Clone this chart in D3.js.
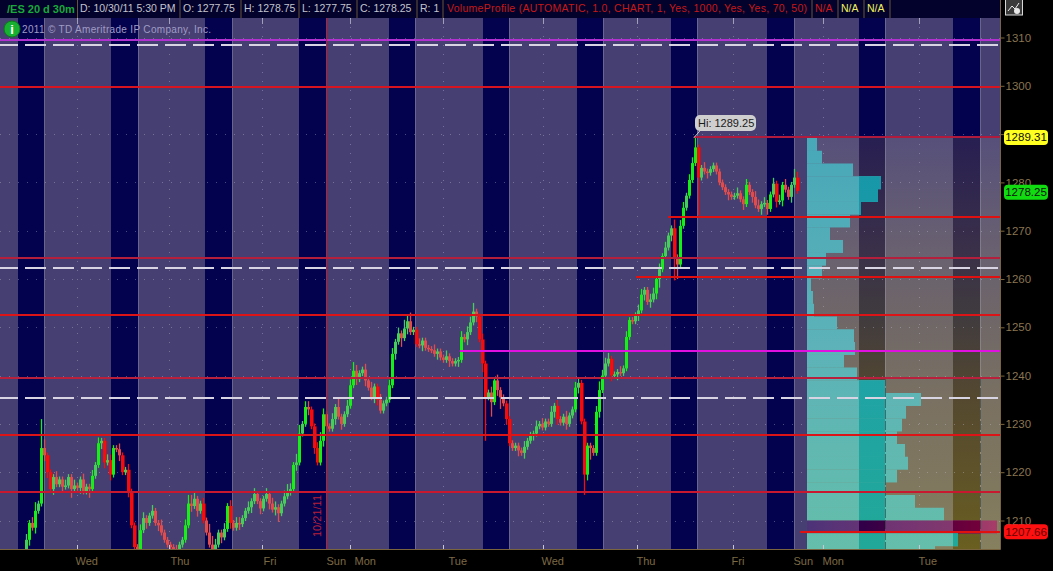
<!DOCTYPE html>
<html><head><meta charset="utf-8">
<script src="https://cdnjs.cloudflare.com/ajax/libs/d3/7.8.5/d3.min.js"></script>
<style>html,body{margin:0;padding:0;background:#000;overflow:hidden}svg{display:block}text{font-family:"Liberation Sans",Arial,sans-serif}</style>
</head><body><svg id="c" width="1053" height="571"></svg>
<script>
// one time slot = one drawn bar
const closes=[
1203.5,1206,1209.5,1208.5,1212,1213.5,1225,1223.5,1220,1216.5,
1219,1217.5,1218.5,1217,1217.25,1219,1216.5,1217.25,1216.75,1218.5,
1216,1217,1216.5,1219.25,1221.5,1226,1226.5,1222,1222.5,1219.5,
1225,1224.75,1223.5,1220,1220.5,1216,1209,1204.5,1204,1208,
1210.5,1209.5,1211,1212,1209.5,1209,1207.5,1206,1205,1204.5,
1203.75,1203.5,1205,1206,1209,1213.5,1213,1214.5,1212,1213.5,
1210,1207.5,1205,1203.75,1205,1207.5,1206.5,1208.25,1213,1209.5,
1208.5,1209.5,1209.25,1210.5,1212,1212.75,1214,1215.5,1214,1212.5,
1214.5,1215.5,1213.5,1212.25,1212.75,1211.5,1213.5,1215,1215.75,1216.5,
1221.5,1222,1228,1230,1233.5,1233,1229.5,1225,1222,1226.5,
1232,1229.5,1229,1231,1233.5,1231.5,1230,1232,1233.75,1238,
1241,1239.25,1240.5,1241.25,1239,1237.5,1235.5,1237.75,1235,1232.75,
1234.25,1235,1238,1244.5,1247,1248.75,1247.75,1249.75,1251.25,1249,
1249.5,1246.5,1246.25,1247.25,1245.75,1245.5,1245.25,1244.5,1245,1243.75,
1243.25,1244,1243,1242.5,1243,1243.25,1248,1247.5,1249,1251,
1253.25,1252.25,1247.5,1242.5,1235.5,1236.5,1234.5,1239,1237,1235.5,
1234.25,1231,1226,1225,1225.5,1224.5,1224,1225.25,1226.5,1227.75,
1228,1229.5,1230,1229.25,1230.5,1230,1232.5,1233.75,1231,1230.25,
1231.5,1230,1231.75,1233,1237.5,1238.5,1230.5,1219.5,1225.5,1225,
1224,1232.5,1237,1240,1242.5,1243.5,1240,1240.25,1240.75,1240.5,
1241.5,1248,1251.5,1251.25,1252.5,1253.5,1256.75,1257.75,1255.25,1255.75,
1257,1260,1262,1264.75,1266.5,1269,1270.5,1264.5,1263,1271,
1274.75,1277.25,1280.5,1284,1287.25,1281,1283,1282.25,1282,1282.75,
1283.5,1282.25,1280,1279,1278,1277.5,1277,1277.25,1277.75,1276.5,
1275.5,1279.5,1278,1277,1275.25,1274.5,1275.5,1275.75,1274.5,1277.5,
1279.75,1276,1276.25,1279.5,1278.5,1277,1279.5,1281,1278.25];
// wick lengths, half points
const upWicks=[
1,2,1,2,3,1,10,3,1,1, 1,2,1,1,2,1,1,2,1,1, 2,1,1,2,1,2,1,1,2,2, 1,1,2,1,1,2,1,1,1,2,
2,1,1,2,1,1,2,1,1,1, 1,2,1,1,2,3,3,2,1,1, 2,1,3,3,2,1,1,2,1,2, 1,2,2,1,1,2,1,2,1,1,
1,2,1,2,2,1,1,2,3,2, 1,3,3,1,2,2,1,1,2,3, 2,1,1,2,1,3,1,1,2,2, 3,2,1,1,2,1,2,1,1,2,
1,1,2,2,1,2,1,3,2,3, 1,1,2,1,1,1,1,2,1,1, 1,2,1,1,1,1,2,1,2,2, 3,1,1,2,1,1,2,1,2,1,
1,1,1,1,1,1,1,2,1,1, 1,2,1,2,1,1,2,1,2,1, 1,2,1,1,2,2,1,1,1,1, 1,2,3,2,2,2,1,1,1,2,
1,2,1,1,1,2,2,1,1,2, 2,1,2,1,2,1,1,3,1,2, 2,1,2,2,4,1,1,2,1,1, 1,1,1,1,1,1,1,1,2,1,
1,2,1,1,2,2,1,2,1,1, 2,1,2,1,2,1,1,3,2,2, 3,1,2,1,2,3,1,2,1];
const downWicks=[
1,1,2,1,2,1,1,2,2,1, 2,1,1,2,1,1,3,1,1,2, 1,1,3,1,1,1,2,2,1,2, 1,1,2,1,1,2,1,1,2,1,
1,2,1,1,1,2,1,1,1,1, 1,1,2,1,1,1,2,1,2,1, 1,1,1,1,2,1,2,1,1,2, 1,1,2,1,1,1,2,1,1,2,
1,1,2,1,2,3,1,1,1,1, 1,2,1,1,1,2,1,2,1,1, 2,2,1,1,2,1,2,1,1,1, 1,2,1,1,2,1,1,2,2,1,
1,1,1,1,2,1,3,1,2,1, 1,1,1,2,1,1,1,1,2,1, 1,1,2,1,1,2,1,1,2,1, 1,2,1,3,15,1,5,1,2,4,
1,2,1,1,1,2,1,2,1,1, 2,1,1,1,1,1,1,2,2,1, 1,2,1,1,1,2,1,7,2,4, 1,1,2,1,1,1,2,1,2,1,
1,1,1,1,1,2,1,2,1,2, 1,2,3,1,1,1,2,8,5,1, 1,1,1,1,1,13,1,1,2,1, 1,1,1,1,1,2,1,1,1,1,
2,1,1,2,1,1,2,1,2,1, 1,2,1,2,1,1,2,1,1,1, 1,2,1,1,1,2,1,1,1];
const nightSessions=[[6,14.67],[37,46],[68.33,77.33],[99.67,108.67],[129.67,138.33],[161,169.67],[192.33,201],[223.67,232.33],[255.67,264.67],[286.33,295],[317.67,326.67]];
const sessionEnds=[14.67,46,77.33,108.67,138.33,169.67,201,232.33,264.67,295,326.67];
const noonSlots=[25.67,56.33,87.33,116.67,147.67,181,212.33,244.33,274.33,306.33];
const dayTickSlots=[25,56.67,87.67,108.67,118,149.33,180.33,212,243.67,264.33,274,306];
const dayLabels=["Wed","Thu","Fri","Sun","Mon","Tue","Wed","Thu","Fri","Sun","Mon","Tue"];
const priceTicks=[1310,1300,1290,1280,1270,1260,1250,1240,1230,1220,1210];
const redLevels=[1299.75,1289.31,1272.8,1264.35,1260.4,1252.55,1239.5,1227.7,1215.9,1207.66];
const redFrom=[0,231.3,222.7,0,212,0,0,0,0,266.7];
const redColors=["#d81420","#b01a3c","#e01010","#b4203c","#e01010","#dc1418","#b8203c","#dc1418","#c81830","#e01010"];
const magentaLevels=[1309.5,1245.1];
const magentaFrom=[0,153.3];
const magentaColors=["#b030d0","#e010e0"];
const dashedLevels=[1308.45,1262.3,1235.4];
const profileVolumes=[10,15,46,74,71,54,43,23,36,19,15,4,6,7,30,47,48,37,50,78,114,99,95,90,98,101,90,78,108,137,190,151,128];
const headerCells=["D: 10/30/11 5:30 PM","O: 1277.75","H: 1278.75","L: 1277.75","C: 1278.25","R: 1"];
const headerCellX=[80,183,244,302,360,420];
const headerDividers=[77.5,180,241,299,357,417,443,812,838,864,890];
const tagValues=["1289.31","1278.25","1207.66"];
const tagColors=["#ffff20","#10dc10","#ff1010"];
const pocIndex=30;

const W=1000.5,T=18,B=549;
const svg=d3.select("#c");
const defs=svg.append("defs");
defs.append("clipPath").attr("id","plot").append("rect").attr("x",0).attr("y",T).attr("width",W).attr("height",B-T);
const vgrad=(id,stops,y1,y2)=>{const g=defs.append("linearGradient").attr("id",id).attr("gradientUnits","userSpaceOnUse").attr("x1",0).attr("x2",0).attr("y1",y1).attr("y2",y2);
 stops.forEach(s=>g.append("stop").attr("offset",s[0]).attr("stop-color",s[1]));};
const hgrad=(id,stops)=>{const g=defs.append("linearGradient").attr("id",id).attr("gradientUnits","userSpaceOnUse").attr("x1",807).attr("x2",997).attr("y1",0).attr("y2",0);
 stops.forEach(s=>g.append("stop").attr("offset",s[0]).attr("stop-color",s[1]));};
vgrad("ovDay",[[0,"#57507a"],[.27,"#696170"],[.42,"#6e6668"],[.64,"#7a7162"],[.84,"#7f775e"],[1,"#87805f"]],139,549);
vgrad("ovNight",[[0,"#281f52"],[.27,"#3a3049"],[.42,"#3f3a3f"],[.64,"#55492f"],[.84,"#5f5428"],[1,"#6a5f20"]],139,549);
vgrad("tealDay",[[0,"#48a8b8"],[.5,"#5cb2b8"],[1,"#64beaa"]],139,549);
vgrad("tealNight",[[0,"#1595a8"],[.5,"#20a2a8"],[1,"#21a898"]],139,549);
hgrad("pocDay",[[0,"#4c3378"],[.4,"#6e3474"],[.75,"#82386e"],[1,"#a83c68"]]);
hgrad("pocNight",[[0,"#320048"],[.3,"#320048"],[1,"#7c0038"]]);

const x=d3.scaleLinear().domain([0,1000/3]).range([0,1000]);
const y=d3.scaleLinear().domain([1310,1210]).range([37.5,520.5]);
const barX=i=>x(i+7.67);
const ry=p=>Math.round(y(p));

const nightClip=defs.append("clipPath").attr("id","night");
nightClip.selectAll("rect").data(nightSessions).join("rect").attr("x",d=>x(d[0])).attr("width",d=>x(d[1])-x(d[0])).attr("y",T).attr("height",B-T);

svg.append("rect").attr("width",1053).attr("height",571).attr("fill","#000");
// header
svg.append("rect").attr("width",W).attr("height",T).attr("fill","#02022c");
svg.append("text").attr("x",7).attr("y",12.5).attr("fill","#1aa83a").attr("font-weight","bold").attr("font-size",11).text("/ES 20 d 30m");
headerCells.forEach((t,i)=>svg.append("text").attr("x",headerCellX[i]).attr("y",12).attr("fill","#c4c4cc").attr("font-size",10.5).text(t));
svg.append("text").attr("x",447).attr("y",12).attr("fill","#c81818").attr("font-size",10.5).attr("textLength",360).text("VolumeProfile (AUTOMATIC, 1.0, CHART, 1, Yes, 1000, Yes, Yes, 70, 50)");
["N/A","N/A","N/A"].forEach((t,i)=>svg.append("text").attr("x",815+i*26).attr("y",12).attr("fill",i?"#f0f060":"#d01818").attr("font-size",10.5).text(t));
svg.selectAll("line.hd").data(headerDividers).join("line").attr("x1",d=>d).attr("x2",d=>d).attr("y1",0).attr("y2",T).attr("stroke","#6a5434");

const plot=svg.append("g").attr("clip-path","url(#plot)");
plot.append("rect").attr("x",0).attr("y",T).attr("width",W).attr("height",B-T).attr("fill","#463f72");
plot.selectAll("rect.night").data(nightSessions).join("rect").attr("x",d=>x(d[0])).attr("width",d=>x(d[1])-x(d[0])).attr("y",T).attr("height",B-T).attr("fill","#02024f");
// profile background
const pfTop=ry(1289.31);
plot.append("rect").attr("x",807).attr("y",pfTop).attr("width",W-807).attr("height",B-pfTop).attr("fill","url(#ovDay)");
plot.append("g").attr("clip-path","url(#night)").append("rect").attr("x",807).attr("y",pfTop).attr("width",W-807).attr("height",B-pfTop).attr("fill","url(#ovNight)");
// grid
plot.selectAll("line.gh").data(priceTicks).join("line").attr("x1",0).attr("x2",W).attr("y1",d=>ry(d)+.5).attr("y2",d=>ry(d)+.5).attr("stroke","#cfcfe0").attr("stroke-opacity",.35).attr("stroke-dasharray","1 8");
plot.selectAll("line.gv").data(noonSlots).join("line").attr("x1",d=>Math.round(x(d))+.5).attr("x2",d=>Math.round(x(d))+.5).attr("y1",T).attr("y2",B).attr("stroke","#cfcfe0").attr("stroke-opacity",.35).attr("stroke-dasharray","1 8");
plot.selectAll("line.ss").data(sessionEnds).join("line").attr("x1",d=>Math.round(x(d))+.5).attr("x2",d=>Math.round(x(d))+.5).attr("y1",T).attr("y2",B).attr("stroke","#b4b4c4").attr("stroke-opacity",.33);
plot.selectAll("line.tk").data(noonSlots).join("line").attr("x1",d=>Math.round(x(d))+.5).attr("x2",d=>Math.round(x(d))+.5).attr("y1",T).attr("y2",24).attr("stroke","#c8c8d4").attr("stroke-opacity",.7);
// profile bars
const vol=d3.scaleLinear().domain([0,190]).range([807,997]);
const drawProfile=(g,teal,poc)=>g.selectAll("rect").data(profileVolumes).join("rect")
 .attr("x",vol(0)).attr("y",(d,i)=>pfTop+1+i*12.75).attr("width",d=>vol(d)-vol(0)).attr("height",12.95)
 .attr("fill",(d,i)=>i===pocIndex?`url(#${poc})`:`url(#${teal})`);
drawProfile(plot.append("g"),"tealDay","pocDay");
drawProfile(plot.append("g").attr("clip-path","url(#night)"),"tealNight","pocNight");
plot.selectAll("line.ssd").data(sessionEnds.slice(-2)).join("line").attr("x1",d=>Math.round(x(d))+.5).attr("x2",d=>Math.round(x(d))+.5).attr("y1",pfTop+240).attr("y2",B).attr("stroke","#2a3a3a").attr("stroke-opacity",.6).attr("stroke-dasharray","9 2");
// candles
const bars=closes.map((c,i)=>{const o=i?closes[i-1]:c-1;return{i,o,c,h:Math.max(o,c)+(upWicks[i]||0)*.6,l:Math.min(o,c)-(downWicks[i]||0)*.6};});
const col=d=>{const m=d.c-d.o;if(m>=0)return m>2.5?"#14f014":"#45cf58";return m<-2.5?"#f40a0a":"#e24c4c";};
defs.append("filter").attr("id","soft").attr("x","-2%").attr("y","-2%").attr("width","104%").attr("height","104%").append("feGaussianBlur").attr("stdDeviation",.35);
const cg=plot.append("g").attr("filter","url(#soft)");
cg.selectAll("line").data(bars).join("line").attr("x1",d=>barX(d.i)+.5).attr("x2",d=>barX(d.i)+.5).attr("y1",d=>y(d.h)).attr("y2",d=>y(d.l)).attr("stroke",col).attr("stroke-width",1.3);
cg.selectAll("rect").data(bars).join("rect").attr("x",d=>barX(d.i)-1).attr("width",d=>d.c<d.o-2.5?3.6:3).attr("y",d=>y(Math.max(d.o,d.c))).attr("height",d=>Math.max(1.5,Math.abs(y(d.o)-y(d.c)))).attr("fill",col);
// levels
plot.selectAll("line.dash").data(dashedLevels).join("line").attr("x1",0).attr("x2",998).attr("y1",d=>ry(d)).attr("y2",d=>ry(d)).attr("stroke","#d8d4e4").attr("stroke-width",2).attr("stroke-dasharray","21 7").attr("stroke-dashoffset",3);
plot.selectAll("line.red").data(redLevels).join("line").attr("x1",(d,i)=>x(redFrom[i])).attr("x2",W).attr("y1",d=>ry(d)).attr("y2",d=>ry(d)).attr("stroke",(d,i)=>redColors[i]).attr("stroke-width",2);
plot.selectAll("line.mag").data(magentaLevels).join("line").attr("x1",(d,i)=>x(magentaFrom[i])).attr("x2",W).attr("y1",d=>ry(d)).attr("y2",d=>ry(d)).attr("stroke",(d,i)=>magentaColors[i]).attr("stroke-width",2);
// date marker
plot.append("line").attr("x1",x(108.83)).attr("x2",x(108.83)).attr("y1",T).attr("y2",B).attr("stroke","#c01c30");
plot.append("text").attr("transform",`translate(${x(108.83)-5},537) rotate(-90)`).attr("fill","#b82038").attr("font-size",11).text("10/21/11");
// info + copyright
plot.append("circle").attr("cx",12).attr("cy",29).attr("r",8).attr("fill","#18b030").attr("stroke","#0c7a1c");
plot.append("text").attr("x",12).attr("y",33.5).attr("text-anchor","middle").attr("fill","#fff").attr("font-weight","bold").attr("font-size",13).text("i");
plot.append("text").attr("x",22).attr("y",33).attr("fill","#a09cc4").attr("font-size",10).attr("textLength",189).text("2011 © TD Ameritrade IP Company, Inc.");
// hi bubble
const hi=svg.append("g");
hi.append("line").attr("x1",x(231.3)).attr("x2",x(231.3)+7).attr("y1",y(1289.25)).attr("y2",y(1289.25)-8).attr("stroke","#c8c8c8");
hi.append("rect").attr("x",695).attr("y",115).attr("width",61).attr("height",16).attr("rx",5).attr("fill","#cfcfcf");
hi.append("text").attr("x",698).attr("y",127).attr("fill","#1a1a1a").attr("font-size",11).text("Hi: 1289.25");
// axes
const ay=svg.append("g").attr("transform",`translate(${W},0)`).call(d3.axisRight(y).tickValues(priceTicks).tickSize(4).tickPadding(1).tickFormat(d=>d===1290?"":d3.format("d")(d)));
ay.select(".domain").remove();
ay.selectAll("line").attr("stroke","#7a6440");
ay.selectAll("text").attr("fill","#8a7550").attr("font-size",11.5).attr("font-family","Liberation Sans");
const ax=svg.append("g").attr("transform",`translate(0,${B})`).call(d3.axisBottom(x).tickValues(dayTickSlots).tickSize(0).tickPadding(0).tickFormat((d,i)=>dayLabels[i]));
ax.select(".domain").remove();
ax.selectAll("text").attr("text-anchor","start").attr("dy",0).attr("y",16).attr("fill","#7d6a45").attr("font-size",11).attr("font-family","Liberation Sans");
svg.append("line").attr("x1",0).attr("x2",W).attr("y1",B+.5).attr("y2",B+.5).attr("stroke","#7a6440");
svg.append("line").attr("x1",W).attr("x2",W).attr("y1",0).attr("y2",B+.5).attr("stroke","#7a6440");
svg.selectAll("line.bt").data(noonSlots).join("line").attr("x1",d=>Math.round(x(d))+.5).attr("x2",d=>Math.round(x(d))+.5).attr("y1",545).attr("y2",B).attr("stroke","#c8c8d4");
// price tags
tagValues.forEach((t,i)=>{const cy=y(+t)+(i===1?1.5:0);
 svg.append("rect").attr("x",1004).attr("y",cy-7.5).attr("width",44).attr("height",15).attr("rx",4).attr("fill",tagColors[i]);
 svg.append("text").attr("x",1026).attr("y",cy+4).attr("text-anchor","middle").attr("fill",i===2?"#600":"#111").attr("font-size",11.5).text(t);});
// corner icon
const ic=svg.append("g");
ic.append("rect").attr("x",1005.5).attr("y",-1).attr("width",17).attr("height",16).attr("fill","#3a3a3a").attr("stroke","#d8d8d8");
ic.append("path").attr("d",d3.line()([[1008,11],[1012,6],[1015,9],[1019,3]])).attr("fill","none").attr("stroke","#eee");
ic.append("circle").attr("cx",1017).attr("cy",11).attr("r",3).attr("fill","#e8e8e8");
</script></body></html>
